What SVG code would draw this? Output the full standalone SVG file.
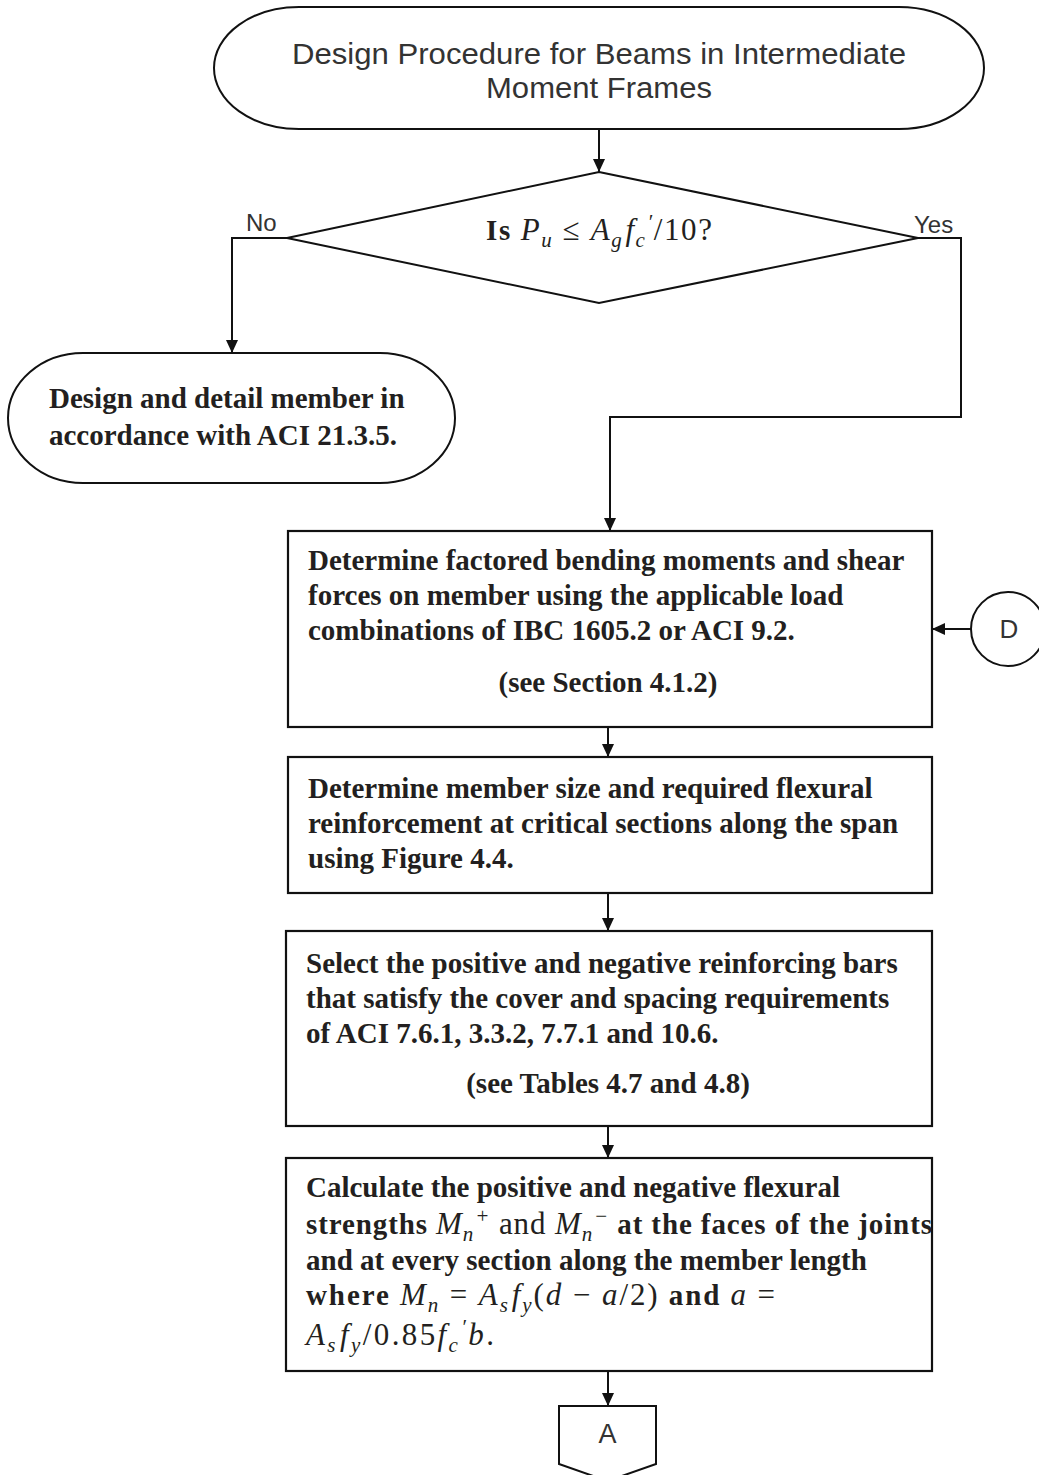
<svg xmlns="http://www.w3.org/2000/svg" width="1039" height="1475" viewBox="0 0 1039 1475">
<defs>
<style>
.shape{fill:#fff;stroke:#111;stroke-width:2}
.box{fill:#fff;stroke:#111;stroke-width:2.2}
.conn{fill:none;stroke:#111;stroke-width:2}
.sans{font-family:"Liberation Sans",Arial,sans-serif;fill:#333}
.serif{font-family:"Liberation Serif","Times New Roman",serif;font-weight:bold;font-size:29px;fill:#231f20}
.m{font-style:italic;font-weight:normal;font-size:31px}
.r{font-weight:normal;font-size:31px}
.sub{font-size:21px;baseline-shift:-7px}
.sup{font-size:21px;baseline-shift:11px}
</style>
<marker id="arr" markerWidth="14" markerHeight="12" refX="13" refY="6" orient="auto" markerUnits="userSpaceOnUse">
<path d="M0,0 L13,6 L0,12 Z" fill="#111"/>
</marker>
</defs>
<rect width="1039" height="1475" fill="#fff"/>

<g id="connectors">
<line class="conn" x1="599" y1="129" x2="599" y2="172" marker-end="url(#arr)"/>
<polyline class="conn" points="287,238 232,238 232,353" marker-end="url(#arr)"/>
<polyline class="conn" points="918,238 961,238 961,417 610,417 610,531" marker-end="url(#arr)"/>
<line class="conn" x1="971" y1="629" x2="932" y2="629" marker-end="url(#arr)"/>
<line class="conn" x1="608" y1="727" x2="608" y2="757" marker-end="url(#arr)"/>
<line class="conn" x1="608" y1="893" x2="608" y2="931" marker-end="url(#arr)"/>
<line class="conn" x1="608" y1="1126" x2="608" y2="1158" marker-end="url(#arr)"/>
<line class="conn" x1="608" y1="1371" x2="608" y2="1406" marker-end="url(#arr)"/>
<text class="sans" x="246" y="231" font-size="24">No</text>
<text class="sans" x="914" y="233" font-size="24">Yes</text>
</g>

<g id="start">
<rect class="shape" x="214" y="7" width="770" height="122" rx="85" ry="61"/>
<text class="sans" x="599" y="64" font-size="29" text-anchor="middle" textLength="614" lengthAdjust="spacingAndGlyphs">Design Procedure for Beams in Intermediate</text>
<text class="sans" x="599" y="98" font-size="29" text-anchor="middle" textLength="226" lengthAdjust="spacingAndGlyphs">Moment Frames</text>
</g>

<g id="decision">
<polygon class="shape" points="599,172 918,238 599,303 287,238"/>
<text class="serif" x="599" y="240" text-anchor="middle" textLength="226" lengthAdjust="spacing">Is <tspan class="m">P<tspan class="sub">u</tspan></tspan><tspan class="r"> ≤ </tspan><tspan class="m">A<tspan class="sub">g</tspan><tspan dx="2">f</tspan><tspan class="sub">c</tspan><tspan class="sup" dx="1">′</tspan></tspan><tspan class="r">/10?</tspan></text>
</g>

<g id="end-no">
<rect class="shape" x="8" y="353" width="447" height="130" rx="75" ry="65"/>
<text class="serif" x="49" y="408">Design and detail member in</text>
<text class="serif" x="49" y="445">accordance with ACI 21.3.5.</text>
</g>

<g id="step1">
<rect class="box" x="288" y="531" width="644" height="196"/>
<text class="serif" x="308" y="570">Determine factored bending moments and shear</text>
<text class="serif" x="308" y="605">forces on member using the applicable load</text>
<text class="serif" x="308" y="640">combinations of IBC 1605.2 or ACI 9.2.</text>
<text class="serif" x="608" y="692" text-anchor="middle">(see Section 4.1.2)</text>
</g>

<g id="connector-d">
<circle class="shape" cx="1008" cy="629" r="37"/>
<text class="sans" x="1009" y="638" font-size="26" text-anchor="middle">D</text>
</g>

<g id="step2">
<rect class="box" x="288" y="757" width="644" height="136"/>
<text class="serif" x="308" y="798">Determine member size and required flexural</text>
<text class="serif" x="308" y="833">reinforcement at critical sections along the span</text>
<text class="serif" x="308" y="868">using Figure 4.4.</text>
</g>

<g id="step3">
<rect class="box" x="286" y="931" width="646" height="195"/>
<text class="serif" x="306" y="973">Select the positive and negative reinforcing bars</text>
<text class="serif" x="306" y="1008">that satisfy the cover and spacing requirements</text>
<text class="serif" x="306" y="1043">of ACI 7.6.1, 3.3.2, 7.7.1 and 10.6.</text>
<text class="serif" x="608" y="1093" text-anchor="middle">(see Tables 4.7 and 4.8)</text>
</g>

<g id="step4">
<rect class="box" x="286" y="1158" width="646" height="213"/>
<text class="serif" x="306" y="1197">Calculate the positive and negative flexural</text>
<text class="serif" x="306" y="1234" textLength="626" lengthAdjust="spacing">strengths <tspan class="m">M<tspan class="sub">n</tspan><tspan class="sup" dx="1">+</tspan></tspan><tspan class="r"> and </tspan><tspan class="m">M<tspan class="sub">n</tspan><tspan class="sup" dx="1">−</tspan></tspan> at the faces of the joints</text>
<text class="serif" x="306" y="1270">and at every section along the member length</text>
<text class="serif" x="306" y="1305" textLength="469" lengthAdjust="spacing">where <tspan class="m">M<tspan class="sub">n</tspan></tspan><tspan class="r"> = </tspan><tspan class="m">A<tspan class="sub">s</tspan><tspan dx="2">f</tspan><tspan class="sub">y</tspan></tspan><tspan class="r">(</tspan><tspan class="m">d</tspan><tspan class="r"> − </tspan><tspan class="m">a</tspan><tspan class="r">/2)</tspan> and <tspan class="m">a</tspan><tspan class="r"> =</tspan></text>
<text class="serif" x="306" y="1345" textLength="188" lengthAdjust="spacing"><tspan class="m">A<tspan class="sub">s</tspan><tspan dx="2">f</tspan><tspan class="sub">y</tspan></tspan><tspan class="r">/0.85</tspan><tspan class="m">f<tspan class="sub">c</tspan><tspan class="sup" dx="1">′</tspan>b</tspan><tspan class="r">.</tspan></text>
</g>

<g id="connector-a">
<polygon class="shape" points="559,1406 656,1406 656,1464 607.5,1481 559,1464"/>
<text class="sans" x="607.5" y="1443" font-size="27" text-anchor="middle">A</text>
</g>
</svg>
